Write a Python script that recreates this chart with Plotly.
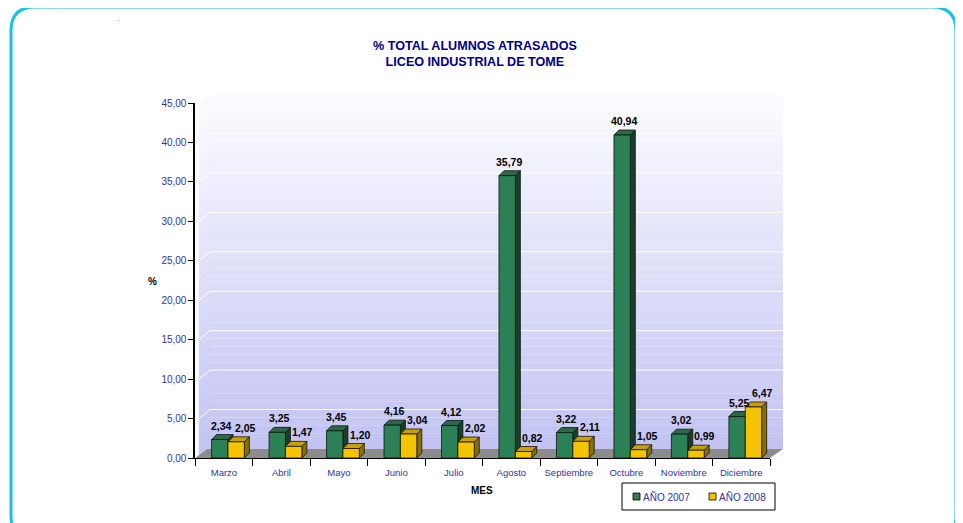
import plotly.graph_objects as go

# ---------------- data ----------------
months = ["Marzo", "Abril", "Mayo", "Junio", "Julio", "Agosto",
          "Septiembre", "Octubre", "Noviembre", "Diciembre"]
v2007 = [2.34, 3.25, 3.45, 4.16, 4.12, 35.79, 3.22, 40.94, 3.02, 5.25]
v2008 = [2.05, 1.47, 1.20, 3.04, 2.02, 0.82, 2.11, 1.05, 0.99, 6.47]
series_names = ["AÑO 2007", "AÑO 2008"]
y_ticks = [0, 5, 10, 15, 20, 25, 30, 35, 40, 45]

# the page body has an 8px margin; the figure is sized to fit the window
OFF = 8
W, H = 963 - OFF, 523 - OFF
# plot geometry in screen pixels
X0, X1 = 195.2, 770.0      # category axis extent
Y0, Y1 = 458.0, 103.0      # value 0 and value 45
YMAX = 45.0
DX, DY = 11.0, -9.0        # depth of back wall (px)
WALL_R = 783.0

def px(x):
    return (x - OFF) / W

def py(y):
    return 1 - (y - OFF) / H

def ypix(v):
    return Y0 + (Y1 - Y0) * v / YMAX

NAVY = "#333399"
FONT = "Liberation Sans, Arial, sans-serif"
shapes = []

# ---------- gradient walls ----------
top_c = (252, 252, 255)
bot_c = (194, 194, 243)
N = 45
for i in range(N):
    va = YMAX * i / N
    vb = YMAX * (i + 1) / N
    t = (va + vb) / 2 / YMAX
    c = tuple(int(round(bot_c[k] + (top_c[k] - bot_c[k]) * t)) for k in range(3))
    col = "rgb(%d,%d,%d)" % c
    ya, yb = ypix(va), ypix(vb)
    shapes.append(dict(type="rect", xref="paper", yref="paper", layer="below",
                       x0=px(199 + DX), x1=px(WALL_R), y0=py(ya + DY), y1=py(yb + DY),
                       fillcolor=col, line=dict(width=0)))
    path = "M %f,%f L %f,%f L %f,%f L %f,%f Z" % (
        px(199), py(ya), px(199 + DX), py(ya + DY),
        px(199 + DX), py(yb + DY), px(199), py(yb))
    shapes.append(dict(type="path", xref="paper", yref="paper", layer="below",
                       path=path, fillcolor=col, line=dict(width=0.5, color=col)))

# gridlines (back wall + side wall)
for v in y_ticks[1:]:
    yv = ypix(v)
    shapes.append(dict(type="line", xref="paper", yref="paper", layer="below",
                       x0=px(199 + DX), x1=px(WALL_R), y0=py(yv + DY), y1=py(yv + DY),
                       line=dict(color="white", width=1)))
    shapes.append(dict(type="line", xref="paper", yref="paper", layer="below",
                       x0=px(199), x1=px(199 + DX), y0=py(yv), y1=py(yv + DY),
                       line=dict(color="white", width=1)))

# floor
floor = "M %f,%f L %f,%f L %f,%f L %f,%f Z" % (
    px(X0), py(Y0), px(X1), py(Y0), px(WALL_R), py(Y0 + DY), px(X0 + DX + 1), py(Y0 + DY))
shapes.append(dict(type="path", xref="paper", yref="paper", layer="below",
                   path=floor, fillcolor="#8c8c8c", line=dict(width=0)))

# ---------- bars with 3D faces ----------
BW = 0.285
OFF_G = -0.215
OFF_Y = OFF_G + BW
BDX = 5.0 / ((X1 - X0) / 10)          # depth in x units
BDY = 5.0 / ((Y0 - Y1) / YMAX)        # depth in y units

def faces(vals, off, side_col, top_col):
    out = []
    for i, v in enumerate(vals):
        xa = i + off
        xb = xa + BW
        side = "M %f,%f L %f,%f L %f,%f L %f,%f Z" % (
            xb, 0, xb + BDX, BDY, xb + BDX, v + BDY, xb, v)
        top = "M %f,%f L %f,%f L %f,%f L %f,%f Z" % (
            xa, v, xa + BDX, v + BDY, xb + BDX, v + BDY, xb, v)
        for p, c in ((side, side_col), (top, top_col)):
            out.append(dict(type="path", xref="x", yref="y", layer="below", path=p,
                            fillcolor=c, line=dict(color="#111111", width=0.8)))
    return out

GREEN, YELLOW = "#2b8055", "#f5c400"
shapes += faces(v2007, OFF_G, "#17402a", "#2a6a46")
shapes += faces(v2008, OFF_Y, "#8a6e00", "#c9a000")

# outer rounded border
r = 24
L, T, R, B = 11, 7, 956, 540
border = ("M %f,%f L %f,%f Q %f,%f %f,%f L %f,%f Q %f,%f %f,%f L %f,%f "
          "Q %f,%f %f,%f L %f,%f Q %f,%f %f,%f Z") % (
    px(L + r), py(T), px(R - r), py(T), px(R), py(T), px(R), py(T + r),
    px(R), py(B - r), px(R), py(B), px(R - r), py(B),
    px(L + r), py(B), px(L), py(B), px(L), py(B - r),
    px(L), py(T + r), px(L), py(T), px(L + r), py(T))
shapes.append(dict(type="path", xref="paper", yref="paper", layer="above",
                   path=border, line=dict(color="#19c0ea", width=3)))

# legend (drawn by hand to match the small square keys)
shapes.append(dict(type="rect", xref="paper", yref="paper", layer="above",
                   x0=px(622), x1=px(775), y0=py(510), y1=py(483),
                   fillcolor="white", line=dict(color="black", width=1)))
leg_keys = [(633, GREEN), (709, YELLOW)]
for kx, kc in leg_keys:
    shapes.append(dict(type="rect", xref="paper", yref="paper", layer="above",
                       x0=px(kx), x1=px(kx + 7), y0=py(500), y1=py(493),
                       fillcolor=kc, line=dict(color="black", width=0.8)))

xs = list(range(len(months)))

fig = go.Figure()
fig.add_trace(go.Bar(
    x=xs, y=v2007, name=series_names[0], offset=OFF_G, width=BW,
    marker=dict(color=GREEN, line=dict(color="#111111", width=0.8))))
fig.add_trace(go.Bar(
    x=xs, y=v2008, name=series_names[1], offset=OFF_Y, width=BW,
    marker=dict(color=YELLOW, line=dict(color="#111111", width=0.8))))

annotations = [
    dict(text="<b>% TOTAL ALUMNOS ATRASADOS<br>LICEO INDUSTRIAL DE TOME</b>",
         x=px(475), y=py(54), xref="paper", yref="paper", showarrow=False,
         xanchor="center", yanchor="middle",
         font=dict(family=FONT, size=12.6, color="#000080")),
    dict(text="<b>%</b>", x=px(152), y=py(281), xref="paper", yref="paper",
         xanchor="center", yanchor="middle",
         showarrow=False, font=dict(family=FONT, size=10, color="black")),
    dict(text="<b>MES</b>", x=px(482), y=py(490), xref="paper", yref="paper",
         xanchor="center", yanchor="middle",
         showarrow=False, font=dict(family=FONT, size=10, color="black")),
    dict(text=".", x=px(118), y=py(17), xref="paper", yref="paper",
         xanchor="center", yanchor="middle",
         showarrow=False, font=dict(size=8, color="#777777")),
]
for name, kx in zip(series_names, (641, 717)):
    annotations.append(dict(text=name, x=px(kx), y=py(496.5), xref="paper", yref="paper",
                            xanchor="left", yanchor="middle", showarrow=False,
                            font=dict(family=FONT, size=10, color=NAVY)))

# data labels
for vals, off, xsh in ((v2007, OFF_G, 2), (v2008, OFF_Y, 9)):
    for i, v in enumerate(vals):
        annotations.append(dict(
            text="<b>%s</b>" % ("%.2f" % v).replace(".", ","),
            x=i + off + BW / 2, y=v, xref="x", yref="y",
            xanchor="center", yanchor="bottom", xshift=xsh, yshift=6,
            showarrow=False, font=dict(family=FONT, size=10.5, color="black")))

fig.update_layout(
    width=W, height=H, margin=dict(l=0, r=0, t=0, b=0, autoexpand=False),
    paper_bgcolor="white", plot_bgcolor="rgba(0,0,0,0)",
    separators=",.",
    barmode="overlay",
    shapes=shapes, annotations=annotations,
    showlegend=False,
    xaxis=dict(domain=[px(X0), px(X1)], range=[-0.5, 9.5], tickmode="array",
               tickvals=xs, ticktext=months, ticks="", showgrid=False, zeroline=False,
               showline=True, linecolor="black", linewidth=1, automargin=False,
               ticklabelstandoff=6,
               tickfont=dict(family=FONT, size=9.5, color=NAVY),
               minor=dict(tickmode="array", tickvals=[i - 0.5 for i in range(11)],
                          ticks="outside", ticklen=7, tickcolor="black", showgrid=False),
               fixedrange=True),
    yaxis=dict(domain=[py(Y0), py(Y1)], range=[0, YMAX], tickmode="array",
               tickvals=y_ticks, tickformat=".2f", ticks="outside", ticklen=5,
               tickcolor="black", showgrid=False, zeroline=False, automargin=False,
               showline=True, linecolor="black", linewidth=1.5,
               tickfont=dict(family=FONT, size=10, color=NAVY),
               fixedrange=True),
)

fig.write_html("out.html")
